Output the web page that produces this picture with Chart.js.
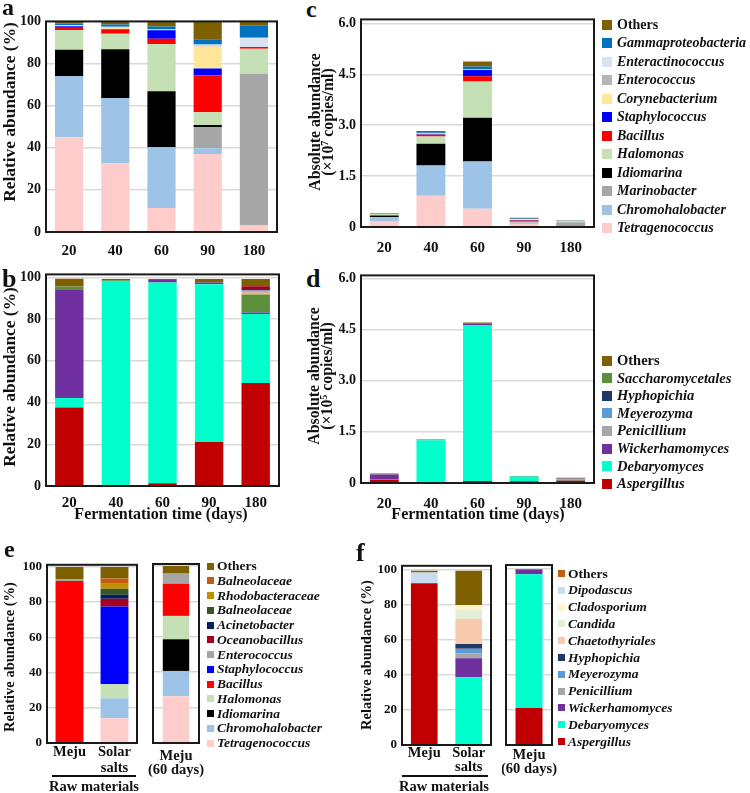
<!DOCTYPE html>
<html>
<head>
<meta charset="utf-8">
<script src="https://cdn.jsdelivr.net/npm/chart.js@4.4.1/dist/chart.umd.min.js"></script>
<style>
body{margin:0;width:750px;height:793px;position:relative;overflow:hidden;background:#fff;
  font-family:"Liberation Serif","Times New Roman",serif;font-weight:bold;color:#111;}
canvas{position:absolute}
.t{position:absolute;white-space:nowrap;line-height:1}
.c{transform:translate(-50%,-50%)}
.r{transform:translate(-50%,-50%) rotate(-90deg)}
.lg{position:absolute;display:flex;align-items:center;height:20px;white-space:nowrap}
.hl{position:absolute;height:2px;background:#111}
</style>
</head>
<body>
<script>
// ---- data ----
const days = ['20', '40', '60', '90', '180'];
const rawSamples = ['Meju', ['Solar', 'salts']];
const meju60 = [['Meju', '(60 days)']];

// bacteria, bottom -> top of each stack
const bactGenera = ['Tetragenococcus', 'Chromohalobacter', 'Marinobacter', 'Idiomarina', 'Halomonas', 'Bacillus',
  'Staphylococcus', 'Corynebacterium', 'Enterococcus', 'Enteractinococcus', 'Gammaproteobacteria', 'Others'];
const bactColors = ['#ffcccc', '#9dc3e6', '#a6a6a6', '#000000', '#c5e0b4', '#ff0000',
  '#0000ff', '#ffe699', '#b4b4b4', '#dae3f3', '#0070c0', '#7f6000'];

// a: relative abundance (%) per genus, days 20..180
const bactRel = [
  [45, 32.6, 11.4, 37, 3.1],
  [29.1, 31, 28.9, 2.8, 0],
  [0, 0, 0, 10, 72.1],
  [12.4, 23.2, 26.5, 1, 0],
  [9.4, 7.3, 22.5, 6.2, 11.8],
  [1.5, 2, 2.5, 17.3, 0.8],
  [0.3, 0.3, 4, 3.3, 0],
  [0.3, 0.3, 0, 10.5, 0],
  [0, 0.3, 0.3, 0.5, 0],
  [0.3, 0.5, 0.3, 0.4, 4.4],
  [0.7, 1, 1.2, 2.5, 6],
  [0.8, 1.5, 2.6, 8.5, 1.9]
];
// c: absolute abundance (x10^7 copies/ml)
const bactAbs = [
  [0.18, 0.92, 0.54, 0.09, 0.01],
  [0.11, 0.89, 1.39, 0.01, 0],
  [0, 0, 0, 0.03, 0.13],
  [0.05, 0.64, 1.29, 0.005, 0],
  [0.04, 0.22, 1.07, 0.02, 0.02],
  [0.01, 0.05, 0.15, 0.04, 0.003],
  [0.002, 0.01, 0.19, 0.01, 0],
  [0.002, 0.01, 0, 0.03, 0],
  [0, 0.01, 0.01, 0.002, 0],
  [0.002, 0.01, 0.01, 0.002, 0.01],
  [0.005, 0.03, 0.08, 0.01, 0.01],
  [0.01, 0.04, 0.15, 0.02, 0.005]
];

// fungi, bottom -> top
const fungiGenera = ['Aspergillus', 'Debaryomyces', 'Wickerhamomyces', 'Penicillium', 'Saccharomycetales',
  'Chaetothyriales', 'Meyerozyma', 'Hyphopichia', 'Unclassified', 'Others'];
const fungiColors = ['#c00000', '#00ffcc', '#7030a0', '#a6a6a6', '#5c8f3a',
  '#f4b183', '#5b9bd5', '#203864', '#a50021', '#7f6000'];
const fungiLegend = ['Others', 'Saccharomycetales', 'Hyphopichia', 'Meyerozyma', 'Penicillium',
  'Wickerhamomyces', 'Debaryomyces', 'Aspergillus'];

// b: relative abundance (%)
const fungiRel = [
  [37.6, 0.2, 1.3, 21.1, 49.4],
  [4.6, 98.2, 96.3, 75.6, 33],
  [51.8, 0, 1.1, 0.8, 0.8],
  [0, 0, 0, 0, 0],
  [1.6, 0, 0, 0, 8.6],
  [0, 0, 0, 0, 1.3],
  [0, 0, 0, 0, 0.7],
  [0, 0, 0, 0, 0.6],
  [0, 0, 0, 0, 1.4],
  [3.7, 0.8, 0.5, 1.7, 3.4]
];
// d: absolute abundance (x10^5 copies/ml)
const fungiAbs = [
  [0.1, 0.003, 0.06, 0.05, 0.07],
  [0.02, 1.25, 4.56, 0.14, 0.05],
  [0.13, 0, 0.05, 0.002, 0.001],
  [0, 0, 0, 0, 0],
  [0.01, 0, 0, 0, 0.015],
  [0, 0, 0, 0, 0],
  [0, 0, 0, 0, 0.002],
  [0, 0, 0, 0, 0.002],
  [0, 0, 0, 0, 0.003],
  [0.02, 0.02, 0.04, 0.01, 0.01]
];

// e: bacteria in raw materials / meju 60 days
const eGenera = ['Tetragenococcus', 'Chromohalobacter', 'Idiomarina', 'Halomonas', 'Bacillus', 'Staphylococcus',
  'Enterococcus', 'Oceanobacillus', 'Acinetobacter', 'Balneolaceae', 'Rhodobacteraceae', 'Balneolaceae', 'Others'];
const eColors = ['#ffcccc', '#9dc3e6', '#000000', '#c5e0b4', '#ff0000', '#0000ff',
  '#a6a6a6', '#a50021', '#002060', '#375623', '#bf9000', '#c55a11', '#7f6000'];
const eRaw = [
  [0, 14.1], [0, 11.3], [0, 0], [0, 7.9], [92, 0], [0, 44.1],
  [0.8, 0], [0, 4.5], [0, 2.3], [0, 3.4], [0, 2.8], [0, 3], [7.2, 6.6]
];
const eMeju60 = [[26.4], [14.3], [17.9], [13.2], [18.2], [0], [5.7], [0], [0], [0], [0], [0], [4.3]];

// f: fungi in raw materials / meju 60 days
const fGenera = ['Aspergillus', 'Debaryomyces', 'Wickerhamomyces', 'Penicillium', 'Meyerozyma', 'Hyphopichia',
  'Chaetothyriales', 'Candida', 'Cladosporium', 'Dipodascus', 'Unclassified', 'Others'];
const fColors = ['#c00000', '#00ffcc', '#7030a0', '#a6a6a6', '#5b9bd5', '#203864',
  '#f8cbad', '#e2f0d9', '#fff2cc', '#c9dcf0', '#7f6000', '#c55a11'];
const fRaw = [
  [92.3, 0], [0, 38.6], [0, 10.9], [0, 2.7], [0, 2.7], [0, 2.7],
  [0, 14.4], [0, 5], [0, 2.9], [6.1, 0], [1, 19.5], [0, 0]
];
const fMeju60 = [[21], [76], [2.5], [0], [0], [0], [0], [0], [0], [0], [0], [0.5]];

// ---- helpers ----
const SERIF = '"Liberation Serif", "Times New Roman", serif';

const frame = {
  id: 'frame',
  afterDraw(chart, args, opts) {
    const a = chart.chartArea, ctx = chart.ctx, up = opts.top || 0;
    ctx.save();
    ctx.strokeStyle = '#1a1a1a';
    ctx.lineWidth = 2;
    ctx.strokeRect(a.left, a.top - up, a.right - a.left, a.bottom - a.top + up);
    ctx.restore();
  }
};

function stackChart(cfg) {
  const yw = cfg.yw || 40, xh = cfg.xh || 30, pt = 12, pr = 14;
  const w = Math.round(cfg.r - cfg.l + yw + pr), h = Math.round(cfg.b - cfg.t + pt + xh);
  const cv = document.createElement('canvas');
  cv.width = w; cv.height = h;
  cv.style.left = (cfg.l - yw) + 'px';
  cv.style.top = (cfg.t - pt) + 'px';
  document.body.appendChild(cv);

  new Chart(cv, {
    type: 'bar',
    data: {
      labels: cfg.labels,
      datasets: cfg.names.map((n, i) => ({
        label: n,
        data: cfg.values[i],
        backgroundColor: cfg.colors[i],
        borderWidth: 0,
        barPercentage: cfg.bar,
        categoryPercentage: 1
      }))
    },
    options: {
      responsive: false,
      animation: false,
      devicePixelRatio: 1,
      layout: { padding: { top: pt, right: pr, left: 0, bottom: 0 } },
      plugins: { legend: { display: false }, tooltip: { enabled: false }, frame: { top: cfg.ft || 0 } },
      scales: {
        x: {
          stacked: true,
          grid: { display: false },
          border: { display: false },
          ticks: {
            color: '#111', padding: cfg.xp, maxRotation: 0, autoSkip: false,
            font: { family: SERIF, weight: 'bold', size: cfg.xfs || 15, lineHeight: cfg.xlh || 1.1 }
          },
          afterFit(s) { s.height = xh; }
        },
        y: {
          stacked: true, min: 0, max: cfg.max,
          grid: { color: '#d9d9d9', lineWidth: 1.5, drawTicks: false },
          border: { display: false },
          ticks: {
            display: cfg.yticks !== false,
            stepSize: cfg.step, color: '#111', padding: 5,
            font: { family: SERIF, weight: 'bold', size: cfg.yfs || 14 },
            callback: cfg.fmt || (v => v)
          },
          afterFit(s) { s.width = yw; }
        }
      }
    },
    plugins: [frame]
  });
}

function text(str, x, y, size, cls) {
  const d = document.createElement('div');
  d.className = 't ' + cls;
  d.style.left = x + 'px';
  d.style.top = y + 'px';
  d.style.fontSize = size + 'px';
  d.innerHTML = str;
  document.body.appendChild(d);
}

function legend(names, colors, x, y0, dy, sq, gap, fs) {
  names.forEach((n, i) => {
    const d = document.createElement('div');
    d.className = 'lg';
    d.style.left = x + 'px';
    d.style.top = (y0 + i * dy - 10) + 'px';
    d.style.fontSize = fs + 'px';
    d.innerHTML = '<span style="display:inline-block;width:' + sq + 'px;height:' + sq + 'px;background:' +
      colors[i] + ';margin-right:' + gap + 'px"></span><span style="font-style:' +
      (n === 'Others' ? 'normal' : 'italic') + '">' + n + '</span>';
    document.body.appendChild(d);
  });
}

function pick(list, names, colors) {
  return list.map(n => colors[names.indexOf(n)]);
}

const absFmt = v => (v === 0 ? '0' : v.toFixed(1));

// ---- a ----
stackChart({ l: 46, r: 277, t: 20, b: 232, labels: days, names: bactGenera, colors: bactColors,
  values: bactRel, max: 100, step: 20, bar: 0.61, xp: 3 });
// ---- b ----
stackChart({ l: 46, r: 279, t: 276, b: 486, labels: days, names: fungiGenera, colors: fungiColors,
  values: fungiRel, max: 100, step: 20, bar: 0.61, xp: 1, ft: 3 });
// ---- c ----
stackChart({ l: 361, r: 594, t: 22, b: 227, labels: days, names: bactGenera, colors: bactColors,
  values: bactAbs, max: 6, step: 1.5, bar: 0.62, xp: 5, ft: 4, fmt: absFmt });
// ---- d ----
stackChart({ l: 361, r: 594, t: 277, b: 483, labels: days, names: fungiGenera, colors: fungiColors,
  values: fungiAbs, max: 6, step: 1.5, bar: 0.62, xp: 5, ft: 3, fmt: absFmt });
// ---- e ----
stackChart({ l: 47, r: 137, t: 566, b: 743, labels: rawSamples, names: eGenera, colors: eColors,
  values: eRaw, max: 100, step: 20, bar: 0.62, xp: -7, ft: 2, yfs: 13, xfs: 14.5, xh: 40 });
stackChart({ l: 152, r: 199, t: 566, b: 743, labels: meju60, names: eGenera, colors: eColors,
  values: eMeju60, max: 100, step: 20, bar: 0.575, xp: -2, ft: 2, xfs: 14.5, xlh: 0.98, xh: 40, yw: 4, yticks: false });
// ---- f ----
stackChart({ l: 402, r: 491, t: 569, b: 745, labels: rawSamples, names: fGenera, colors: fColors,
  values: fRaw, max: 100, step: 20, bar: 0.6, xp: -7, ft: 4, yfs: 13, xfs: 14.5, xlh: 0.98, xh: 40 });
stackChart({ l: 506, r: 552, t: 569, b: 745, labels: meju60, names: fGenera, colors: fColors,
  values: fMeju60, max: 100, step: 20, bar: 0.587, xp: -5, ft: 4, xfs: 14.5, xlh: 0.98, xh: 40, yw: 4, yticks: false });

// ---- panel letters ----
text('a', 2, -5, 24, '');
text('b', 2, 266, 26, '');
text('c', 306, -3, 24, '');
text('d', 306, 266, 26, '');
text('e', 4, 537, 24, '');
text('f', 356, 540, 26, '');

// ---- axis titles ----
text('Relative abundance (%)', 10, 112, 17.4, 'r');
text('Relative abundance (%)', 10, 377, 17.4, 'r');
text('Absolute abundance', 315, 122, 15.8, 'r');
text('(×10<sup style="font-size:10px;vertical-align:5px">7</sup> copies/ml)', 328, 122, 15.8, 'r');
text('Absolute abundance', 314, 376, 15.8, 'r');
text('(×10<sup style="font-size:10px;vertical-align:5px">5</sup> copies/ml)', 327, 376, 15.8, 'r');
text('Fermentation time (days)', 161, 514, 16, 'c');
text('Fermentation time (days)', 478, 514, 16, 'c');
text('Relative abundance (%)', 9, 657, 14.5, 'r');
text('Relative abundance (%)', 366, 655, 14.5, 'r');

// raw materials brackets
[[52, 84, 94], [402, 86, 444]].forEach(([x, w, cx]) => {
  const l = document.createElement('div');
  l.className = 'hl';
  l.style.left = x + 'px'; l.style.top = '775px'; l.style.width = w + 'px';
  document.body.appendChild(l);
  text('Raw materials', cx, 786, 14.5, 'c');
});

// ---- legends ----
legend(bactGenera.slice().reverse(), bactColors.slice().reverse(), 602, 24.5, 18.5, 10, 5, 14);
legend(fungiLegend, pick(fungiLegend, fungiGenera, fungiColors), 602, 360.5, 17.6, 10, 5, 14.5);
legend(eGenera.slice().reverse(), eColors.slice().reverse(), 207, 566, 14.75, 7, 3, 13.5);
const fLegend = fGenera.filter(n => n !== 'Unclassified').reverse();
legend(fLegend, pick(fLegend, fGenera, fColors), 558, 573.5, 16.8, 7, 3, 13.5);
</script>
</body>
</html>
